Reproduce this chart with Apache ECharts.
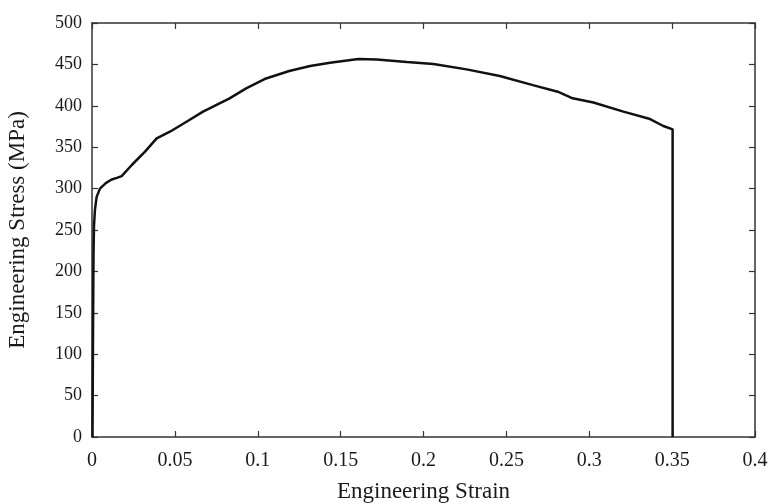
<!DOCTYPE html>
<html>
<head>
<meta charset="utf-8">
<script src="https://cdn.jsdelivr.net/npm/echarts@6/dist/echarts.min.js"></script>
<style>html,body{margin:0;padding:0;background:#fff}#c{width:772px;height:504px}</style>
</head>
<body>
<div id="c"></div>
<script>
const strain = [0.0003,0.0006,0.0009,0.0012,0.0018,0.0028,0.0048,0.0085,0.0119,0.0150,0.0179,0.024,0.032,0.039,0.047,0.057,0.067,0.083,0.093,0.105,0.119,0.1316,0.1436,0.1607,0.1718,0.19,0.206,0.226,0.246,0.266,0.281,0.290,0.3025,0.3206,0.3367,0.3447,0.3503,0.3503];
const stress = [0,120,220,255,275,290,300,307,311,313,315,328.5,344.6,360.7,368.7,380.8,392.9,409,421,433,442,448,452,456.5,456,453,450.5,444,436,425,417,409,404,393,384,375.6,371.6,0];
const xTicks = {min:0, max:0.4, interval:0.05};
const yTicks = {min:0, max:500, interval:50};

const chart = echarts.init(document.getElementById('c'), null, {renderer:'canvas'});
const font = 'Liberation Serif';
const axisLine = {show:true, onZero:false, lineStyle:{color:'#333', width:1.5}};
const axisTick = {show:true, inside:true, length:6, lineStyle:{color:'#333', width:1.2}};
chart.setOption({
  animation:false,
  backgroundColor:'#fff',
  grid:{left:92, right:17, top:23, bottom:67, outerBoundsMode:'none', containLabel:false},
  xAxis:[{
    type:'value', min:xTicks.min, max:xTicks.max, interval:xTicks.interval,
    name:'Engineering Strain', nameLocation:'middle', nameGap:43,
    nameTextStyle:{fontFamily:font, fontSize:23, color:'#1a1a1a'},
    axisLine, axisTick, splitLine:{show:false},
    axisLabel:{fontFamily:font, fontSize:20, color:'#1a1a1a', margin:14}
  },{
    type:'value', position:'top', min:xTicks.min, max:xTicks.max, interval:xTicks.interval,
    axisLine, axisTick, splitLine:{show:false}, axisLabel:{show:false}
  }],
  yAxis:[{
    type:'value', min:yTicks.min, max:yTicks.max, interval:yTicks.interval,
    name:'Engineering Stress (MPa)', nameLocation:'middle', nameGap:63,
    nameTextStyle:{fontFamily:font, fontSize:23, color:'#1a1a1a'},
    axisLine, axisTick, splitLine:{show:false},
    axisLabel:{fontFamily:font, fontSize:18, color:'#1a1a1a', margin:10}
  },{
    type:'value', position:'right', min:yTicks.min, max:yTicks.max, interval:yTicks.interval,
    axisLine, axisTick, splitLine:{show:false}, axisLabel:{show:false}
  }],
  series:[{
    type:'line', data:strain.map((s,i)=>[s,stress[i]]),
    showSymbol:false, smooth:false,
    lineStyle:{color:'#111', width:2.5}
  }]
});
</script>
</body>
</html>
